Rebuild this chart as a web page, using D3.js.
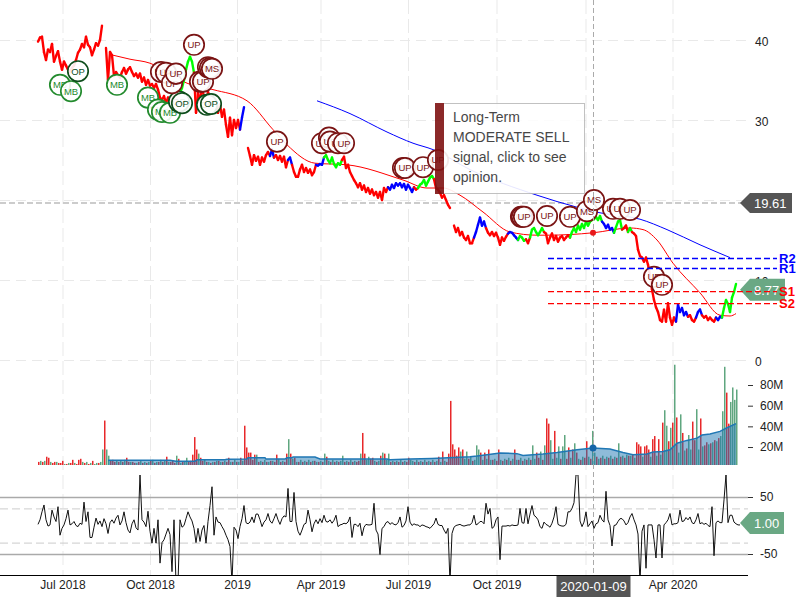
<!DOCTYPE html>
<html>
<head>
<meta charset="utf-8">
<script src="https://cdn.jsdelivr.net/npm/d3@7"></script>
<style>
  body { margin: 0; background: #fff; }
  text { font-family: "Liberation Sans", Arial, sans-serif; }
</style>
</head>
<body>
<div id="chart"></div>
<script>
// x positions are session numbers, one value every other trading session
const tickSessions = [12.25, 56, 99.5, 141.25, 185, 229.25, 273.75, 317.25];
// the 2020 tick has no label of its own, the crosshair date box sits there
const tickLabels = ["Jul 2018", "Oct 2018", "2019", "Apr 2019", "Jul 2019", "Oct 2019", "", "Apr 2020"];

const priceTicks = [40, 30, 20, 10, 0];
const priceTickLabels = ["40", "30", "", "10", "0"];
const volumeTicks = [20, 40, 60, 80];
const cciTicks = [50, -50];
const cciInner = [30, -30];

const priceValues = [
  39.8,40.3,40.4,38.5,37.5,38.8,38.5,39.5,37.3,38.0,
  38.6,37.3,36.3,37.3,36.8,36.3,36.0,36.5,36.8,37.5,
  38.4,38.8,39.5,39.1,40.4,39.4,39.1,38.1,38.8,39.6,
  39.3,40.0,41.8,null,39.0,35.0,38.5,38.1,35.5,36.0,
  35.6,35.3,36.0,36.5,35.8,36.3,36.6,36.0,35.5,35.8,
  35.3,35.8,34.8,35.3,34.4,35.0,34.3,34.5,34.0,34.5,
  33.8,32.8,32.5,33.0,32.1,32.8,31.9,32.5,33.1,32.3,
  32.9,33.4,34.0,35.0,36.3,37.3,37.9,37.3,35.9,30.9,
  33.4,32.5,34.0,32.9,32.1,33.5,32.8,32.0,32.5,31.8,
  30.9,31.9,30.4,31.3,29.4,27.9,30.3,28.1,30.0,29.0,
  30.0,28.8,30.3,31.6,null,26.5,25.5,24.4,25.6,24.9,
  25.4,24.4,25.3,24.8,25.6,26.0,25.5,26.3,25.3,25.6,
  25.0,25.5,24.8,25.4,24.1,25.0,25.3,24.4,23.5,22.9,
  22.9,23.8,24.4,23.5,24.0,23.4,23.8,23.1,23.5,24.4,
  24.3,24.5,24.4,25.3,25.6,25.0,24.6,25.3,24.5,24.1,
  24.6,24.4,25.0,25.4,24.0,24.4,23.5,23.0,22.5,22.1,
  21.6,22.1,21.3,21.8,21.0,21.5,20.8,21.3,20.6,21.0,
  20.3,21.0,20.0,21.5,21.0,21.6,21.3,21.9,21.5,22.1,
  21.8,22.1,21.6,22.0,21.3,21.9,21.5,21.0,21.6,21.3,
  21.5,21.9,22.1,22.5,21.8,22.3,22.8,23.0,22.6,21.5,
  21.3,20.9,20.3,20.6,20.0,19.4,19.0,
  null,16.8,16.0,16.5,15.6,16.0,15.3,15.0,15.5,14.6,
  14.6,15.3,16.0,16.9,17.8,16.8,17.3,16.5,15.9,15.6,
  16.0,15.5,15.9,15.3,14.4,15.3,14.9,15.4,15.8,16.0,
  15.9,15.6,15.3,15.0,15.5,15.3,14.9,15.1,14.6,15.3,
  16.3,16.5,16.0,15.6,16.0,16.5,16.0,15.8,14.6,15.3,
  15.8,15.0,15.5,14.8,15.3,15.5,15.0,15.3,15.6,15.3,
  16.0,16.5,16.0,16.8,16.3,17.0,16.5,17.3,16.8,17.3,
  17.5,17.6,17.9,17.5,18.0,17.3,17.0,16.5,16.9,16.3,
  16.5,15.9,16.6,17.3,17.5,16.3,16.5,16.8,16.0,16.5,
  16.0,15.8,15.5,13.8,13.0,12.8,12.3,12.8,11.9,10.6,
  8.8,7.5,6.6,6.0,5.0,4.8,6.3,4.8,7.1,5.3,
  4.4,5.3,4.8,6.9,6.0,6.5,5.6,6.0,5.4,5.6,
  5.0,4.8,5.3,6.0,6.3,5.6,5.3,5.5,5.0,5.3,
  5.0,4.8,5.3,5.0,5.4,5.3,
  6.5,7.5,7.0,6.0,7.8,8.5,9.5
];

// trend of the price line: each code runs from the break before it
const trendBreaks = [70,78,101,104,116,118,125,127,139,143,152,175,188,190,198,218,224,235,240,244,246,253,266,282,288,292,295,297,319,325,329,332,339,342];
const trendCodes = ["down","up","down","flat","down","flat","down","flat","down","flat","up","down","flat","down","up","down","flat","down","flat","up","down","up","down","up","flat","up","down","up","down","flat","down","flat","down","flat","up"];

const fastSessions = [37.5,46,56,66,74.5,87.5,104.5,117.5,124.5,138.5,154.5,182.5,194.5,202.5,211,222.5,236,249.5,254.5,277.5,296,302.5,309.5,317.5,331,341,346,349];
const fastValues = [38.1,37.6,37.1,35.8,34.6,33.8,32.4,28.8,26.9,24.6,24.4,22.5,21.5,21.5,20.6,18.5,16.0,15.6,15.6,15.9,16.5,16.3,15.0,12.1,8.4,5.6,5.5,5.8];

const slowSessions = [139.5,156,174.5,187.5,197.5,216,249.5,269.5,281,301,314.5,331,346];
const slowValues = [32.4,30.8,28.5,27.1,26.3,23.8,20.6,19.1,18.4,17.6,16.3,14.4,12.8];

const levelNames = ["R2","R1","S1","S2"];
const levelValues = [12.75,11.5,8.6,7.1];
const levelStart = 255;
const levelEnd = 369.5;

const markerLabels = ["MB","MB","OP","MB","MB","MB","MB","MB","OP","OP","OP","OP","UP","UP","UP","UP","UP","UP","UP","MS","MS","MS","UP","UP","UP","UP","UP","UP","UP","UP","UP","UP","UP","UP","UP","UP","UP","MS","MS","UP","UP","UP","UP","UP"];
const markerSessions = [11,16.5,20,39.5,55,60,62,66,70.5,72,84.5,86.5,61.5,64,67,69,78,81,82.5,85,86,87,119.5,142,145.5,146,150,153,182.5,183.5,192.5,200,241.5,242,243,254.5,266,274.5,278,287.5,291,296,308,312];
const markerPrices = [34.4,33.6,36.1,34.4,32.8,31.3,31.0,30.9,32.3,32.1,31.9,32.0,36.0,35.9,34.6,35.8,39.4,34.8,34.8,36.6,36.5,36.4,27.3,27.1,27.8,27.3,27.1,27.1,24.0,24.0,24.1,25.0,17.9,17.9,17.9,18.0,17.9,18.6,20.0,18.9,18.9,18.75,10.4,9.4];

// volume in millions, negative = down day
const volumeValues = [
  -3,4,-3,4,-8,-7,3,-2,-3,3,
  -2,-2,-4,1,-1,2,-2,-5,2,-1,
  -5,-6,3,-2,3,-1,2,-4,1,2,
  -2,3,15,-43,15,9,-4,-5,-3,4,
  -3,4,-3,5,-7,-3,3,-3,-2,2,
  -3,4,-2,3,-2,3,-4,5,-2,3,
  -3,5,-3,4,-8,3,-3,-4,-2,9,
  -6,2,-3,3,7,-3,-4,-10,-27,-15,
  11,-7,-4,5,-3,3,-2,3,-3,4,
  -4,3,-3,4,-3,-7,3,-3,5,-3,
  3,-7,4,-38,-17,-12,-12,-5,-10,10,
  -3,4,-3,5,-3,3,-4,4,-3,-10,
  6,-3,4,-3,-11,25,-11,6,-7,3,
  -3,5,-3,4,-3,5,-3,4,-4,3,
  -3,4,-3,11,-8,4,-3,5,-3,4,
  -3,4,9,-3,4,-3,5,-3,4,-3,
  -4,11,-31,-11,5,8,-6,-7,4,-3,
  4,-9,12,-11,5,11,-3,4,-3,4,
  -3,5,-3,4,-3,-7,5,4,-3,5,
  -3,4,-3,5,-3,4,-3,5,-3,4,
  -8,3,-13,4,-3,-11,-62,-20,-15,-9,
  -17,13,-15,6,13,-6,8,-4,5,19,
  15,-12,5,-12,6,-15,5,-5,6,-4,
  -15,5,-4,6,-5,7,-4,6,-15,5,
  -5,7,-4,6,-5,7,-5,19,6,-12,
  -7,13,-5,19,-45,-40,24,6,-33,7,
  18,-6,18,29,-6,-17,7,-15,21,-12,
  6,-5,8,-7,-23,8,-6,33,12,-8,
  6,-7,9,-6,8,-7,9,-6,8,-7,
  21,-8,9,-7,10,-9,9,-10,7,-22,
  -20,-18,8,-18,-19,-15,8,-25,-28,9,
  -25,10,-41,53,38,-23,36,-41,97,-46,
  12,49,-31,14,-16,29,15,-42,-24,54,
  15,-45,18,-19,-22,20,-21,22,-24,23,
  -26,28,52,95,-70,-40,61,75,63,73
];

const avgSessions = [35,66,69,78.5,79.5,93.5,94.5,104.5,105,113.5,114,123.5,124.5,127,127.5,138.5,141,174.5,176,186,197,216,219.5,224.5,231,239.5,242.5,252.5,259.5,269.5,277.5,286,292.5,297.5,304.5,307.5,312.5,316,319.5,324.5,329.5,332,336,341,344.5,349];
const avgValues = [4.5,4.5,3.7,3.7,5,5,5.5,5.8,7,7,5.7,5.7,7,7,7.8,7.8,5.8,5.8,5,5.8,6.4,8,8.7,10,11.6,11,9.3,10.6,12,14.8,16.4,15.4,12,10,10.6,12.5,13,14.8,21,23.8,26,29,30,32.5,36,40];

const cciValues = [
  2,10,24,36,10,-1,1,27,15,7,
  33,-17,-5,1,12,27,1,3,7,0,
  -2,4,2,41,7,24,-21,-21,-3,13,
  2,8,-2,12,3,-14,5,10,4,13,
  18,1,8,24,5,-8,-13,3,10,-4,
  -8,89,10,6,-2,25,-10,-31,-5,-31,
  10,-66,-30,-25,-15,-5,-16,-81,10,-100,
  -100,10,-3,0,12,24,15,8,-5,-30,
  -5,-28,-8,0,-31,7,35,68,-17,15,
  6,5,-2,-8,-17,-25,-37,-100,-3,-8,
  -23,-2,12,35,5,3,6,15,5,20,
  20,10,-2,6,10,21,8,4,12,21,
  10,2,12,17,15,65,7,7,58,7,
  -10,-17,-8,2,4,27,10,-11,3,10,
  3,12,5,18,7,6,10,4,9,18,
  -2,1,2,4,3,6,15,-21,2,2,
  -2,4,-18,-3,2,1,1,2,39,-8,
  -15,-51,-5,-2,5,7,2,5,2,1,
  5,15,-3,0,8,33,6,0,3,1,
  1,-2,1,0,-2,-3,-5,-1,3,13,
  2,0,0,-8,-14,-5,-100,-14,-3,0,
  1,2,0,-1,0,1,1,5,18,1,
  3,7,7,3,39,20,30,-5,-2,10,
  15,-60,-1,-1,-1,0,-1,1,0,0,
  1,30,5,4,30,3,20,35,18,15,
  10,-2,-5,6,2,0,-3,4,15,33,
  2,0,-1,-1,2,24,24,30,40,89,
  89,8,-2,6,24,-2,3,8,-5,3,
  5,18,10,6,60,10,0,-36,0,1,
  7,12,12,8,1,5,15,21,10,1,
  -15,-100,-10,1,-75,1,1,1,-25,-57,
  1,1,-57,1,5,10,21,1,3,3,
  5,27,7,8,14,10,15,5,3,10,
  21,3,5,2,4,0,-2,33,-53,5,
  8,5,5,45,89,5,18,18,6,3,
  1,1
];

const lastClose = "19.61";
const lastCloseValue = 19.61;
const lastPrice = "8.77";
const lastPriceValue = 8.77;
const lastCci = "1.00";
const lastCciValue = 1;
const crossSession = 277.5;
const crossDate = "2020-01-09";
const crossFast = 15.9;
const crossAvg = 16.4;
const opinionLines = ["Long-Term", "MODERATE SELL", "signal, click to see", "opinion."];

const svg = d3.select("#chart").append("svg")
  .attr("width", 800)
  .attr("height", 600)
  .style("display", "block");

const volumeBase = 465;
const rightEdge = 748;

const x = d3.scaleLinear().domain([0, 349]).range([38, 736]);
const yPrice = d3.scaleLinear().domain([0, 40]).range([360, 40]);
// the axis zero sits just under the plot, bars are read from the visible base
const yVolume = d3.scaleLinear().domain([0, 80]).range([467.7, 385]);
const yBar = d3.scaleLinear().domain([0, 80]).range([volumeBase, volumeBase - 82.7]);
const yCci = d3.scaleLinear().domain([-50, 50]).range([554, 497]);

const trendColor = { down: "#ff0000", up: "#00ff00", flat: "#0000ff" };
const trendAt = d3.scaleThreshold().domain(trendBreaks).range(trendCodes);
const markerColor = { UP: "#7a1414", MS: "#7a1414", MB: "#238b2e", OP: "#0e4d1c" };
const levelColor = name => name[0] === "R" ? "#0000ff" : "#ff0000";

svg.append("defs").append("clipPath").attr("id", "cciClip")
  .append("rect").attr("x", 0).attr("y", 475).attr("width", 800).attr("height", 100);

// grid
svg.append("g").selectAll("line")
  .data(tickSessions).enter().append("line")
  .attr("x1", d => x(d) + 0.5).attr("x2", d => x(d) + 0.5)
  .attr("y1", 0).attr("y2", 575)
  .attr("stroke", "#e9e9e9").attr("stroke-dasharray", "14 5");

svg.append("g").selectAll("line")
  .data(priceTicks).enter().append("line")
  .attr("x1", 0).attr("x2", rightEdge)
  .attr("y1", d => yPrice(d) + 0.5).attr("y2", d => yPrice(d) + 0.5)
  .attr("stroke", "#e9e9e9").attr("stroke-dasharray", "10 6");

// volume bars and their average
svg.append("g").selectAll("rect")
  .data(volumeValues).enter().append("rect")
  .attr("x", (d, i) => x(i))
  .attr("width", 1.5)
  .attr("y", d => yBar(Math.abs(d)))
  .attr("height", d => volumeBase - yBar(Math.abs(d)))
  .attr("fill", d => d < 0 ? "#e8282a" : "#5fa67f");

svg.append("path")
  .attr("d", d3.area()
    .x(d => x(avgSessions[d]))
    .y0(volumeBase)
    .y1(d => yBar(avgValues[d]))(d3.range(avgValues.length)))
  .attr("fill", "#1f77b4").attr("opacity", 0.5);

svg.append("path")
  .attr("d", d3.line()
    .x(d => x(avgSessions[d]))
    .y(d => yBar(avgValues[d]))(d3.range(avgValues.length)))
  .attr("fill", "none").attr("stroke", "#1f77b4").attr("stroke-width", 1.5);

// last close line
svg.append("line")
  .attr("x1", 0).attr("x2", 745)
  .attr("y1", yPrice(lastCloseValue)).attr("y2", yPrice(lastCloseValue))
  .attr("stroke", "#ccc").attr("stroke-width", 2).attr("stroke-dasharray", "6 3");

// moving averages
function drawAverage(sessions, values, color) {
  const line = d3.line()
    .x(d => x(sessions[d]))
    .y(d => yPrice(values[d]))
    .curve(d3.curveMonotoneX);
  svg.append("path")
    .attr("d", line(d3.range(values.length)))
    .attr("fill", "none").attr("stroke", color).attr("stroke-width", 1);
}

drawAverage(slowSessions, slowValues, "#0000ff");
drawAverage(fastSessions, fastValues, "#ff0000");

// price, one short segment per session so the trend colour can change
const priceSegments = d3.range(priceValues.length - 1)
  .filter(i => priceValues[i] !== null && priceValues[i + 1] !== null);

svg.append("g").selectAll("line")
  .data(priceSegments).enter().append("line")
  .attr("x1", i => x(i)).attr("x2", i => x(i + 1))
  .attr("y1", i => yPrice(priceValues[i])).attr("y2", i => yPrice(priceValues[i + 1]))
  .attr("stroke", i => trendColor[trendAt(i)])
  .attr("stroke-width", 2.4)
  .attr("stroke-linecap", "round");

// signal markers
const markers = svg.append("g").selectAll("g")
  .data(d3.range(markerLabels.length)).enter().append("g")
  .attr("transform", i => `translate(${x(markerSessions[i])},${yPrice(markerPrices[i])})`);

markers.append("circle")
  .attr("r", 10.2)
  .attr("fill", "#fff").attr("fill-opacity", 0.9)
  .attr("stroke", i => markerColor[markerLabels[i]])
  .attr("stroke-width", 1.7);

markers.append("text")
  .attr("text-anchor", "middle").attr("dy", "0.36em")
  .style("font-size", "9.5px")
  .attr("fill", i => markerColor[markerLabels[i]])
  .text(i => markerLabels[i]);

// crosshair
svg.append("line")
  .attr("x1", x(crossSession) + 0.5).attr("x2", x(crossSession) + 0.5)
  .attr("y1", 0).attr("y2", 575)
  .attr("stroke", "#aaa").attr("stroke-dasharray", "5 3");

svg.append("circle")
  .attr("cx", x(crossSession)).attr("cy", yPrice(crossFast))
  .attr("r", 3).attr("fill", "#e8181a");

svg.append("circle")
  .attr("cx", x(crossSession)).attr("cy", yBar(crossAvg))
  .attr("r", 3.5).attr("fill", "#1565a8");

// cci panel
svg.append("g").selectAll("line")
  .data(cciTicks).enter().append("line")
  .attr("x1", 0).attr("x2", rightEdge)
  .attr("y1", d => yCci(d) + 0.5).attr("y2", d => yCci(d) + 0.5)
  .attr("stroke", "#aaa").attr("stroke-width", 1.5);

svg.append("g").selectAll("line")
  .data(cciInner).enter().append("line")
  .attr("x1", 0).attr("x2", rightEdge)
  .attr("y1", d => yCci(d) + 0.5).attr("y2", d => yCci(d) + 0.5)
  .attr("stroke", "#ccc").attr("stroke-dasharray", "8 4");

svg.append("path")
  .attr("clip-path", "url(#cciClip)")
  .attr("d", d3.line().x((d, i) => x(i)).y(d => yCci(d))(cciValues))
  .attr("fill", "none").attr("stroke", "#111").attr("stroke-width", 1);

// axes
const bottomAxis = d3.axisBottom(x)
  .tickValues(tickSessions)
  .tickFormat((d, i) => tickLabels[i])
  .tickSize(0).tickPadding(5);

const xAxis = svg.append("g")
  .attr("transform", "translate(0,575)")
  .call(bottomAxis);
xAxis.select(".domain").remove();
xAxis.selectAll("text").style("font-size", "12px").attr("fill", "#222");

svg.append("line")
  .attr("x1", 0).attr("x2", rightEdge).attr("y1", 575.5).attr("y2", 575.5)
  .attr("stroke", "#000").attr("stroke-width", 1.2);

const priceAxis = svg.append("g")
  .attr("transform", "translate(755,0)")
  .call(d3.axisRight(yPrice).tickValues(priceTicks).tickSize(0).tickPadding(0)
    .tickFormat((d, i) => priceTickLabels[i]));
priceAxis.select(".domain").remove();
priceAxis.selectAll("text").style("font-size", "12px").attr("fill", "#222").attr("dy", "0.42em");

const volumeAxis = svg.append("g")
  .attr("transform", "translate(748,0)")
  .call(d3.axisRight(yVolume).tickValues(volumeTicks).tickSize(5).tickPadding(7).tickFormat(d => d + "M"));
volumeAxis.select(".domain").remove();
volumeAxis.selectAll("line").attr("stroke", "#333");
volumeAxis.selectAll("text").style("font-size", "12px").attr("fill", "#222");

const cciAxis = svg.append("g")
  .attr("transform", "translate(748,0)")
  .call(d3.axisRight(yCci).tickValues(cciTicks).tickSize(5).tickPadding(7).tickFormat(d => d));
cciAxis.select(".domain").remove();
cciAxis.selectAll("line").attr("stroke", "#333");
cciAxis.selectAll("text").style("font-size", "12px").attr("fill", "#222");

// flag shaped value labels
function flag(y, label, fill, right, halfHeight) {
  svg.append("path")
    .attr("d", `M740,${y}L750,${y - halfHeight}H${right}V${y + halfHeight}H750Z`)
    .attr("fill", fill);
  svg.append("text")
    .attr("x", 754).attr("y", y)
    .attr("dy", "0.36em")
    .style("font-size", "13px").attr("fill", "#fff")
    .text(label);
}

flag(yPrice(lastCloseValue), lastClose, "#555", 792, 10);
flag(yPrice(lastPriceValue), lastPrice, "#6aa884", 785, 11);
flag(yCci(lastCciValue) - 2, lastCci, "#6aa884", 784, 11);

// support and resistance, on top of the price flag
svg.append("g").selectAll("line")
  .data(levelNames).enter().append("line")
  .attr("x1", x(levelStart)).attr("x2", x(levelEnd))
  .attr("y1", (d, i) => yPrice(levelValues[i]) + 0.5).attr("y2", (d, i) => yPrice(levelValues[i]) + 0.5)
  .attr("stroke", levelColor).attr("stroke-width", 1.3).attr("stroke-dasharray", "6 3");

svg.append("g").selectAll("text")
  .data(levelNames).enter().append("text")
  .attr("x", 779).attr("y", (d, i) => yPrice(levelValues[i]))
  .attr("dy", "0.36em")
  .style("font-size", "13px").style("font-weight", "bold")
  .attr("fill", levelColor)
  .text(d => d);

// crosshair date
svg.append("rect")
  .attr("x", x(crossSession) - 36.5).attr("y", 576)
  .attr("width", 74).attr("height", 21)
  .attr("fill", "#555");
svg.append("text")
  .attr("x", x(crossSession) + 0.5).attr("y", 586.5)
  .attr("text-anchor", "middle").attr("dy", "0.36em")
  .style("font-size", "13px").attr("fill", "#fff")
  .text(crossDate);

// opinion box
const opinion = svg.append("g").attr("opacity", 0.9);
opinion.append("rect")
  .attr("x", 435.5).attr("y", 103.5).attr("width", 149).attr("height", 90)
  .attr("fill", "#fff").attr("stroke", "#bbb");
opinion.append("rect")
  .attr("x", 435).attr("y", 103).attr("width", 9).attr("height", 91)
  .attr("fill", "#7f1212");
opinion.selectAll("text")
  .data(opinionLines).enter().append("text")
  .attr("x", 453).attr("y", (d, i) => 122 + i * 20)
  .style("font-size", "14px").attr("fill", "#333")
  .text(d => d);
</script>
</body>
</html>
